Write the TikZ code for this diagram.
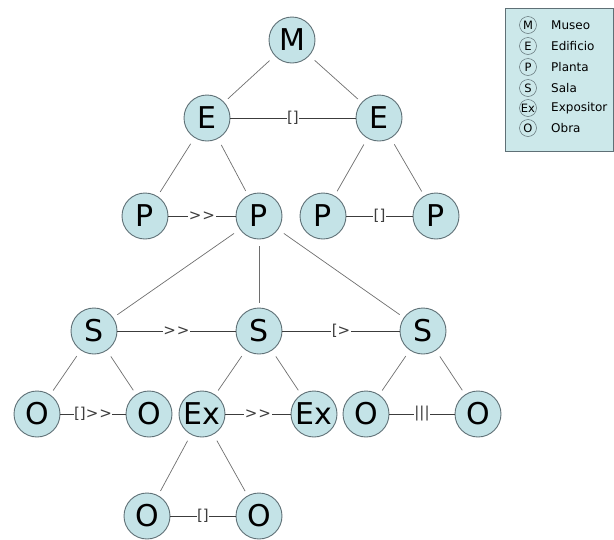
\documentclass[tikz,border=0pt]{standalone}
\usepackage{fontspec}
\setmainfont{DejaVu Sans}
\newfontfamily\labfont{DejaVu Sans}
\definecolor{cfill}{RGB}{196,227,231}
\definecolor{cdraw}{RGB}{95,112,118}
\definecolor{lfill}{RGB}{204,232,234}
\definecolor{edge}{RGB}{110,110,110}
\definecolor{hedge}{RGB}{60,60,60}
\newcommand{\dblgt}{>\kern1pt>}
\begin{document}
\begin{tikzpicture}[x=1pt,y=-1pt,
  nd/.style={circle,draw=cdraw,line width=0.9pt,fill=cfill,minimum size=46pt,inner sep=0pt,font=\fontsize{30}{30}\selectfont},
  tr/.style={draw=edge,line width=0.7pt,shorten <=7pt,shorten >=5pt},
  hz/.style={draw=hedge,line width=0.8pt},
  lab/.style={fill=white,inner sep=0.5pt,font=\labfont\fontsize{15}{15}\selectfont,text=hedge},
  lg/.style={circle,draw=cdraw,line width=0.5pt,minimum size=17pt,inner sep=0pt,font=\fontsize{11.5}{11.5}\selectfont},
  lt/.style={anchor=west,inner sep=0pt,font=\fontsize{12}{12}\selectfont}]
\useasboundingbox (0,0) rectangle (614,539);
% nodes
\node[nd] (M) at (292,40) {M};
\node[nd] (E1) at (207,118) {E};
\node[nd] (E2) at (379,118) {E};
\node[nd] (P1) at (145,216) {P};
\node[nd] (P2) at (259,216) {P};
\node[nd] (P3) at (323,216) {P};
\node[nd] (P4) at (436,216) {P};
\node[nd] (S1) at (94,331) {S};
\node[nd] (S2) at (259,331) {S};
\node[nd] (S3) at (423,331) {S};
\node[nd] (O1) at (37,414) {O};
\node[nd] (O2) at (149,414) {O};
\node[nd] (X1) at (202,414) {Ex};
\node[nd] (X2) at (314,414) {Ex};
\node[nd] (O3) at (366,414) {O};
\node[nd] (O4) at (478,414) {O};
\node[nd] (O5) at (147,516) {O};
\node[nd] (O6) at (259,516) {O};
% tree edges
\draw[tr] (M) -- (E1);
\draw[tr] (M) -- (E2);
\draw[tr] (E1) -- (P1);
\draw[tr] (E1) -- (P2);
\draw[tr] (E2) -- (P3);
\draw[tr] (E2) -- (P4);
\draw[tr] (P2) -- (S1);
\draw[tr] (P2) -- (S2);
\draw[tr] (P2) -- (S3);
\draw[tr] (S1) -- (O1);
\draw[tr] (S1) -- (O2);
\draw[tr] (S2) -- (X1);
\draw[tr] (S2) -- (X2);
\draw[tr] (S3) -- (O3);
\draw[tr] (S3) -- (O4);
\draw[tr] (X1) -- (O5);
\draw[tr] (X1) -- (O6);
% horizontal relations
\draw[hz] (E1) -- node[lab] {[]} (E2);
\draw[hz] (P1) -- node[lab] {\dblgt} (P2);
\draw[hz] (P3) -- node[lab] {[]} (P4);
\draw[hz] (S1) -- node[lab] {\dblgt} (S2);
\draw[hz] (S2) -- node[lab] {[>} (S3);
\draw[hz] (O1) -- node[lab] {[]\dblgt} (O2);
\draw[hz] (X1) -- node[lab] {\dblgt} (X2);
\draw[hz] (O3) -- node[lab] {|||} (O4);
\draw[hz] (O5) -- node[lab] {[]} (O6);
% legend
\draw[draw=cdraw,line width=0.6pt,fill=lfill] (505,8) rectangle (613.5,151);
\node[lg] (LM) at (528,25) {M};
\node[lg] (LE) at (528,46) {E};
\node[lg] (LP) at (528,67) {P};
\node[lg] (LS) at (528,88) {S};
\node[lg] (LX) at (528,108) {Ex};
\node[lg] (LO) at (528,128) {O};
\node[lt] (TM) at (551,25) {Museo};
\node[lt] (TE) at (551,46) {Edificio};
\node[lt] (TP) at (551,67) {Planta};
\node[lt] (TS) at (551,88) {Sala};
\node[lt] (TX) at (551,108) {Expositor};
\node[lt] (TO) at (551,128) {Obra};
\end{tikzpicture}
\end{document}
